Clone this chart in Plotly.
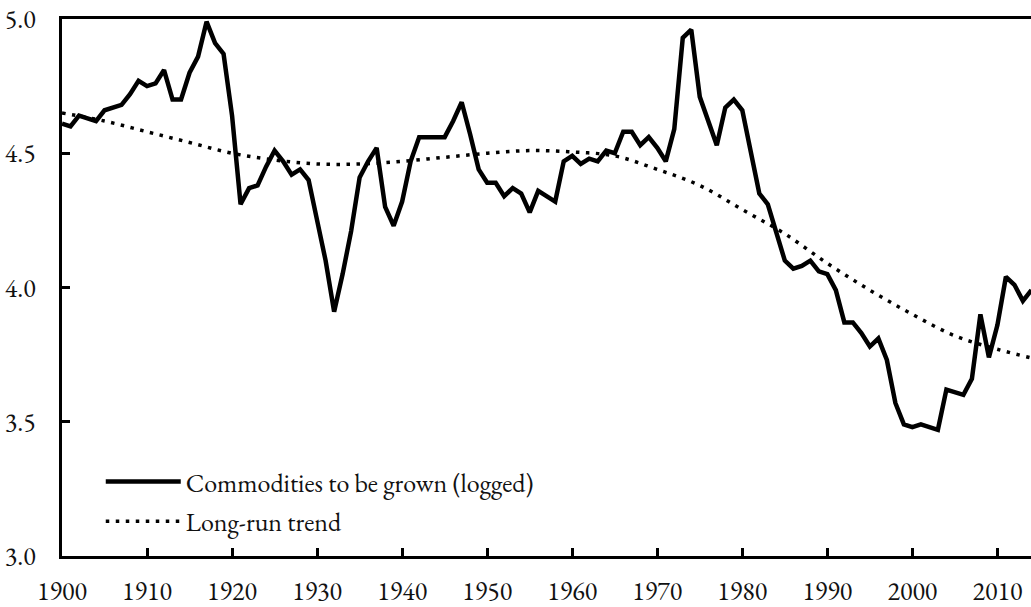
import plotly.graph_objects as go

years = list(range(1900, 2015))
commodities = [
    4.61, 4.60, 4.64, 4.63, 4.62, 4.66, 4.67, 4.68, 4.72, 4.77,
    4.75, 4.76, 4.81, 4.70, 4.70, 4.80, 4.86, 4.99, 4.91, 4.87,
    4.64, 4.31, 4.37, 4.38, 4.45, 4.51, 4.47, 4.42, 4.44, 4.40,
    4.25, 4.10, 3.91, 4.05, 4.21, 4.41, 4.47, 4.52, 4.30, 4.23,
    4.32, 4.47, 4.56, 4.56, 4.56, 4.56, 4.62, 4.69, 4.57, 4.44,
    4.39, 4.39, 4.34, 4.37, 4.35, 4.28, 4.36, 4.34, 4.32, 4.47,
    4.49, 4.46, 4.48, 4.47, 4.51, 4.50, 4.58, 4.58, 4.53, 4.56,
    4.52, 4.47, 4.59, 4.93, 4.96, 4.71, 4.62, 4.53, 4.67, 4.70,
    4.66, 4.51, 4.35, 4.31, 4.20, 4.10, 4.07, 4.08, 4.10, 4.06,
    4.05, 3.99, 3.87, 3.87, 3.83, 3.78, 3.81, 3.73, 3.57, 3.49,
    3.48, 3.49, 3.48, 3.47, 3.62, 3.61, 3.60, 3.66, 3.90, 3.74,
    3.86, 4.04, 4.01, 3.95, 3.99,
]

trend_years = [1900, 1905, 1910, 1915, 1920, 1925, 1930, 1935, 1940, 1945,
               1950, 1955, 1960, 1965, 1970, 1975, 1980, 1985, 1990, 1995,
               2000, 2005, 2010, 2015]
trend = [4.65, 4.62, 4.58, 4.54, 4.50, 4.475, 4.46, 4.46, 4.47, 4.485,
         4.50, 4.51, 4.505, 4.49, 4.44, 4.38, 4.29, 4.20, 4.09, 3.99,
         3.90, 3.82, 3.77, 3.73]

x_ticks = [1900, 1910, 1920, 1930, 1940, 1950, 1960, 1970, 1980, 1990, 2000, 2010]
y_ticks = [3.0, 3.5, 4.0, 4.5, 5.0]

FONT = "Garamond, 'EB Garamond', 'Liberation Serif', 'DejaVu Serif', serif"

fig = go.Figure()
fig.add_trace(go.Scatter(
    x=years, y=commodities, mode="lines",
    name="Commodities to be grown (logged)",
    line=dict(color="black", width=4.5),
    legendgroup="a",
))
fig.add_trace(go.Scatter(
    x=trend_years, y=trend, mode="lines",
    name="Long-run trend",
    line=dict(color="black", width=3.5, dash="3.5px,6.5px", shape="spline"),
    legendgroup="b",
))

fig.update_layout(
    width=1031, height=607,
    margin=dict(l=62, r=0, t=19, b=51, autoexpand=False),
    paper_bgcolor="white", plot_bgcolor="white",
    font=dict(family=FONT, size=26, color="#111"),
    showlegend=True,
    legend=dict(
        x=0.04, y=0.1825, xanchor="left", yanchor="top",
        bgcolor="rgba(0,0,0,0)", borderwidth=0,
        font=dict(family=FONT, size=26, color="#111"),
        tracegroupgap=3, itemwidth=75,
    ),
    xaxis=dict(
        range=[1900, 2013.95], tickvals=x_ticks, ticktext=[str(v) for v in x_ticks],
        ticks="inside", ticklen=8, tickwidth=2.5, tickcolor="black",
        showline=True, linecolor="black", linewidth=3, mirror=True,
        showgrid=False, zeroline=False, ticklabelstandoff=10, automargin=False,
        tickfont=dict(family=FONT, size=26, color="#111"),
    ),
    yaxis=dict(
        range=[3.0, 5.0], tickvals=y_ticks, ticktext=[f"{v:.1f}" for v in y_ticks],
        ticks="inside", ticklen=8, tickwidth=2.5, tickcolor="black",
        showline=True, linecolor="black", linewidth=3,
        showgrid=False, zeroline=False, ticklabelstandoff=18, automargin=False,
        tickfont=dict(family=FONT, size=26, color="#111"),
    ),
)

fig.write_html(
    "out.html",
    config={"displayModeBar": False},
    post_script="document.body.style.margin='0';document.body.style.overflow='hidden';",
)
